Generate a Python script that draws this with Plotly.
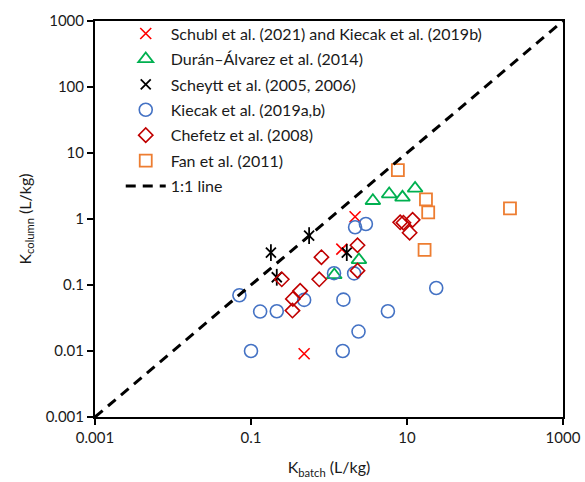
import plotly.graph_objects as go

# Sorption coefficients: batch (x) vs column (y), L/kg
schubl_x = [2.16, 1.46, 0.48]
schubl_y = [1.08, 0.35, 0.0091]

duran_x = [1.17, 2.42, 3.65, 5.91, 8.75, 12.7]
duran_y = [0.142, 0.24, 1.89, 2.39, 2.13, 2.91]

scheytt_x = [0.18, 0.556, 0.214, 1.69]
scheytt_y = [0.31, 0.56, 0.131, 0.31]

kiecak_x = [0.071, 0.131, 0.214, 0.48, 0.1, 1.16, 1.53, 2.1, 2.16, 2.97, 2.39, 1.5, 5.69, 23.7]
kiecak_y = [0.070, 0.0396, 0.04, 0.0595, 0.01, 0.151, 0.06, 0.15, 0.75, 0.84, 0.0197, 0.01, 0.04, 0.09]

chefetz_x = [0.248, 0.8, 0.75, 0.427, 0.344, 0.34, 2.32, 2.32, 8.18, 9.0, 11.8, 10.8]
chefetz_y = [0.122, 0.264, 0.122, 0.0815, 0.0616, 0.041, 0.40, 0.165, 0.89, 0.88, 0.97, 0.62]

fan_x = [7.64, 17.5, 18.7, 16.8, 209]
fan_y = [5.5, 1.99, 1.26, 0.34, 1.45]

line_xy = [0.001, 1000]

x_tickvals = [0.001, 0.1, 10, 1000]
x_ticktext = ["0.001", "0.1", "10", "1000"]
y_tickvals = [0.001, 0.01, 0.1, 1, 10, 100, 1000]
y_ticktext = ["0.001", "0.01", "0.1", "1", "10", "100", "1000"]

FONT = "Lato"
TEXT = "#1a1a1a"

fig = go.Figure()

fig.add_trace(go.Scatter(
    x=schubl_x, y=schubl_y, mode="markers",
    name="Schubl et al. (2021) and Kiecak et al. (2019b)",
    marker=dict(symbol="x-thin-open", size=11, color="#FF0000", line=dict(color="#FF0000", width=1.6)),
))
fig.add_trace(go.Scatter(
    x=duran_x, y=duran_y, mode="markers",
    name="Durán–Álvarez et al. (2014)",
    marker=dict(symbol="triangle-up-open", size=13, color="#00B050", line=dict(color="#00B050", width=1.8)),
))
fig.add_trace(go.Scatter(
    x=scheytt_x, y=scheytt_y, mode="markers",
    name="Scheytt et al. (2005, 2006)", legendgroup="scheytt",
    marker=dict(symbol="x-thin-open", size=10, color="black", line=dict(color="black", width=1.8)),
))
fig.add_trace(go.Scatter(
    x=scheytt_x, y=scheytt_y, mode="markers",
    name="Scheytt et al. (2005, 2006)", legendgroup="scheytt", showlegend=False,
    marker=dict(symbol="line-ns-open", size=12, color="black", line=dict(color="black", width=1.8)),
))
fig.add_trace(go.Scatter(
    x=kiecak_x, y=kiecak_y, mode="markers",
    name="Kiecak et al. (2019a,b)",
    marker=dict(symbol="circle-open", size=13, color="#4472C4", line=dict(color="#4472C4", width=1.6)),
))
fig.add_trace(go.Scatter(
    x=chefetz_x, y=chefetz_y, mode="markers",
    name="Chefetz et al. (2008)",
    marker=dict(symbol="diamond-open", size=11, color="#C00000", line=dict(color="#C00000", width=1.6)),
))
fig.add_trace(go.Scatter(
    x=fan_x, y=fan_y, mode="markers",
    name="Fan et al. (2011)",
    marker=dict(symbol="square-open", size=12, color="#ED7D31", line=dict(color="#ED7D31", width=1.8)),
))
fig.add_trace(go.Scatter(
    x=line_xy, y=line_xy, mode="lines",
    name="1:1 line",
    line=dict(color="black", width=3, dash="10px,7px"),
))

axis_common = dict(
    type="log",
    showline=True, linecolor="black", linewidth=2, mirror=True,
    ticks="outside", ticklen=6, tickwidth=1.5, tickcolor="black",
    showgrid=False, zeroline=False,
    tickfont=dict(family=FONT, size=15, color=TEXT),
)

fig.update_xaxes(
    **axis_common,
    range=[-3, 3],
    tickmode="array", tickvals=x_tickvals, ticktext=x_ticktext,
    title=dict(text="K<sub>batch</sub> (L/kg)", font=dict(family=FONT, size=16, color=TEXT), standoff=17),
)
fig.update_yaxes(
    **axis_common,
    range=[-3, 3],
    tickmode="array", tickvals=y_tickvals, ticktext=y_ticktext,
    title=dict(text="K<sub>column</sub> (L/kg)", font=dict(family=FONT, size=16, color=TEXT), standoff=10),
)

fig.update_layout(
    width=585, height=482,
    margin=dict(l=95, r=22, t=21, b=65, autoexpand=False),
    paper_bgcolor="white", plot_bgcolor="white",
    showlegend=True,
    legend=dict(
        x=0.055, y=1.011, xanchor="left", yanchor="top",
        bgcolor="rgba(0,0,0,0)", borderwidth=0,
        tracegroupgap=1.6, itemwidth=40,
        font=dict(family=FONT, size=16, color=TEXT),
    ),
)

fig.write_html("out.html")
